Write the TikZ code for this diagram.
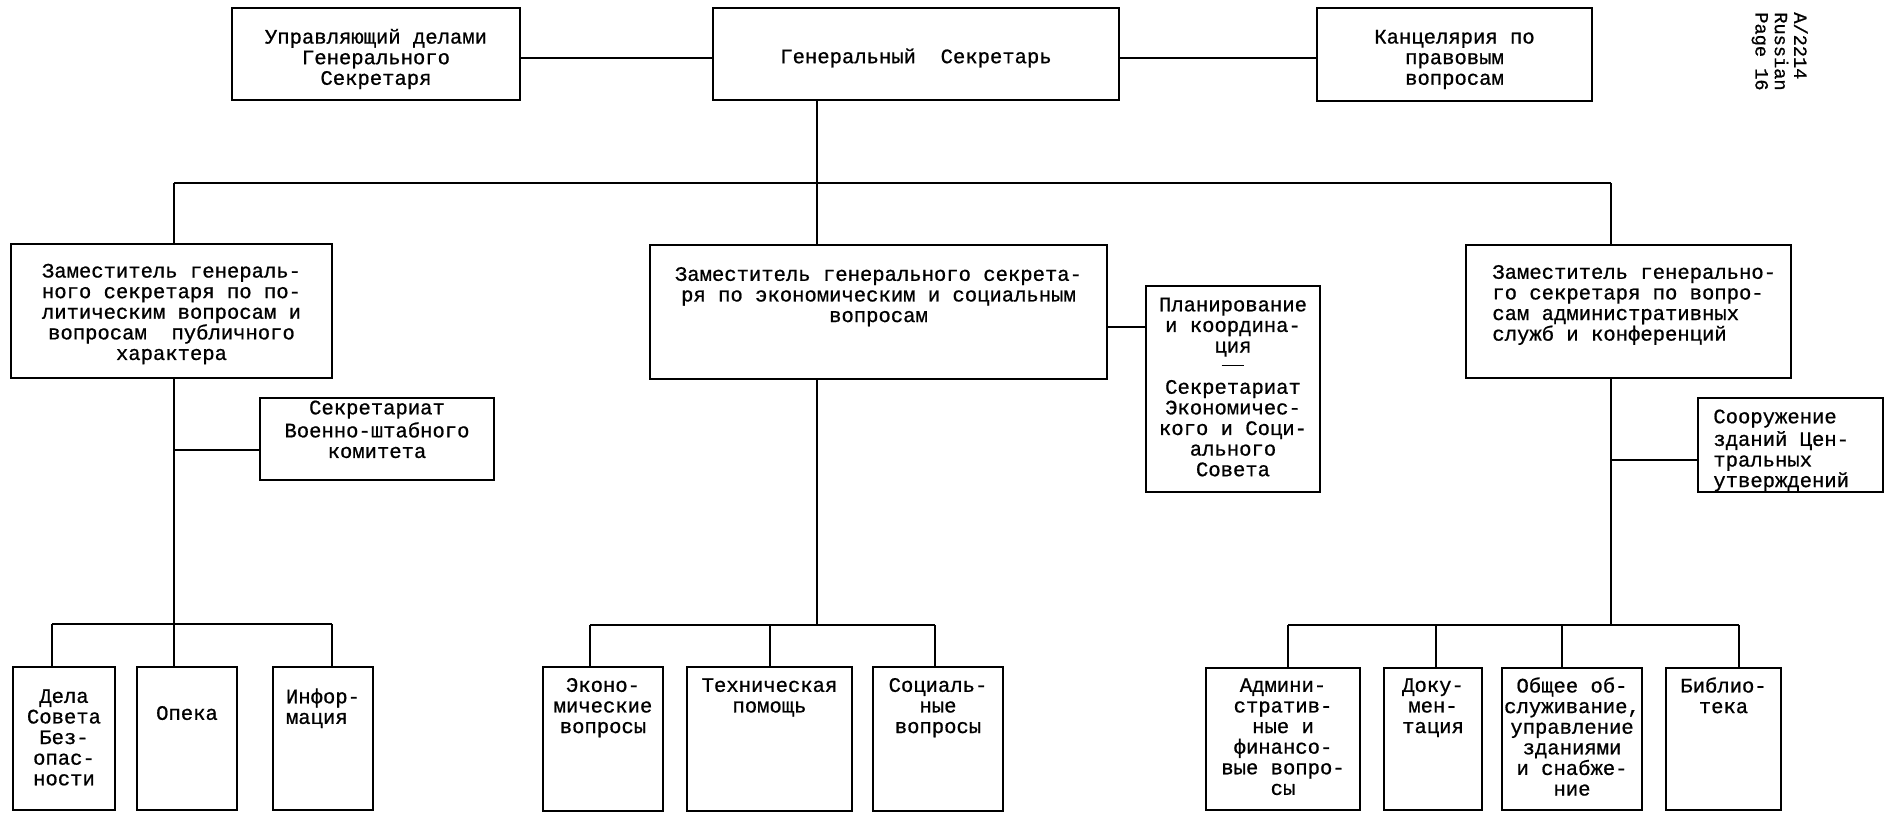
\documentclass[tikz,border=0pt]{standalone}
\usepackage{fontspec}
\newfontfamily\tw{Liberation Mono}[FakeBold=0.8]
\usetikzlibrary{fit,calc}
\begin{document}
\begin{tikzpicture}[x=0.02cm,y=-0.02cm,
  box/.style={draw, line width=1.1pt, inner sep=0pt},
  ln/.style={line width=1.1pt},
  txt/.style={inner sep=0pt, font=\tw\fontsize{11.7pt}{11.73pt}\selectfont, align=center},
  txtl/.style={txt, align=left},
  doclbl/.style={inner sep=0pt, font=\tw\fontsize{10.6pt}{11pt}\selectfont, align=left}]
\useasboundingbox (0,0) rectangle (1888,815);

% ---------- boxes ----------
\node[box, fit={(232,8) (520,100)}] (mgr) {};
\node[box, fit={(713,8) (1119,100)}] (gs) {};
\node[box, fit={(1317,8) (1592,101)}] (legal) {};

\node[box, fit={(11,244) (332,378)}] (depP) {};
\node[box, fit={(650,245) (1107,379)}] (depE) {};
\node[box, fit={(1466,245) (1791,378)}] (depA) {};

\node[box, fit={(1146,286) (1320,492)}] (plan) {};
\node[box, fit={(260,398) (494,480)}] (secmil) {};
\node[box, fit={(1698,398) (1883,492)}] (constr) {};

\node[box, fit={(13,667) (115,810)}] (dela) {};
\node[box, fit={(137,667) (237,810)}] (opeka) {};
\node[box, fit={(273,667) (373,810)}] (info) {};

\node[box, fit={(543,667) (663,811)}] (econ) {};
\node[box, fit={(687,667) (852,811)}] (tech) {};
\node[box, fit={(873,667) (1003,811)}] (soc) {};

\node[box, fit={(1206,668) (1360,810)}] (adm) {};
\node[box, fit={(1384,668) (1482,810)}] (doc) {};
\node[box, fit={(1502,668) (1642,810)}] (gen) {};
\node[box, fit={(1666,668) (1781,810)}] (lib) {};

% ---------- texts ----------
\node[txt] (t-mgr) at ($(mgr.center)+(0,5)$) {Управляющий делами\\Генерального\\Секретаря};
\node[txt] (t-gs) at ($(gs.center)+(0,4)$) {Генеральный~~Секретарь};
\node[txt] (t-legal) at ($(legal.center)+(0,5)$) {Канцелярия по\\правовым\\вопросам};
\node[txt] (t-depP) at ($(depP.center)+(0,3)$) {Заместитель генераль-\\ного секретаря по по-\\литическим вопросам и\\вопросам~~публичного\\характера};
\node[txt, anchor=north] (t-depE) at ($(depE.north)+(0,22)$) {\strut Заместитель генерального секрета-\\ря по экономическим и социальным\\вопросам};
\node[txtl, anchor=north west] (t-depA) at (1492,264) {\strut Заместитель генерально-\\го секретаря по вопро-\\сам административных\\служб и конференций};
\node[txt, anchor=north] (t-plan) at ($(plan.north)+(0,11.5)$) {\strut Планирование\\и координа-\\ция\\\rule[4pt]{13pt}{0.9pt}\\Секретариат\\Экономичес-\\кого и Соци-\\ального\\Совета};
\node[txt, anchor=north] (t-secmil) at ($(secmil.north)+(0,2.5)$) {\strut Секретариат\\Военно-штабного\\комитета};
\node[txtl, anchor=north west] (t-constr) at (1713,408.5) {\strut Сооружение\\зданий Цен-\\тральных\\утверждений};

\node[txt, anchor=north] (t-dela) at ($(dela.north)+(0,22)$) {\strut Дела\\Совета\\Без-\\опас-\\ности};
\node[txt, anchor=north] (t-opeka) at ($(opeka.north)+(0,39)$) {\strut Опека};
\node[txtl, anchor=north] (t-info) at ($(info.north)+(0,22)$) {\strut Инфор-\\мация};
\node[txt, anchor=north] (t-econ) at ($(econ.north)+(0,11)$) {\strut Эконо-\\мические\\вопросы};
\node[txt, anchor=north] (t-tech) at ($(tech.north)+(0,11)$) {\strut Техническая\\помощь};
\node[txt, anchor=north] (t-soc) at ($(soc.north)+(0,11)$) {\strut Социаль-\\ные\\вопросы};
\node[txt, anchor=north] (t-adm) at ($(adm.north)+(0,10)$) {\strut Админи-\\стратив-\\ные и\\финансо-\\вые вопро-\\сы};
\node[txt, anchor=north] (t-doc) at ($(doc.north)+(0,10)$) {\strut Доку-\\мен-\\тация};
\node[txt, anchor=north] (t-gen) at ($(gen.north)+(0,10)$) {\strut Общее об-\\служивание,\\управление\\зданиями\\и снабже-\\ние};
\node[txt, anchor=north] (t-lib) at ($(lib.north)+(0,10)$) {\strut Библио-\\тека};

\node[doclbl, rotate=-90, anchor=north west] (docref) at (1808,12) {A/2214\\Russian\\Page 16};

% ---------- connector coordinates ----------
\coordinate (xL) at (174,0);
\coordinate (xG) at (817,0);
\coordinate (xR) at (1611,0);
\coordinate (yM) at (0,58);
\coordinate (yT) at (0,183);
\coordinate (yE) at (0,327);
\coordinate (yS) at (0,450);
\coordinate (yC) at (0,460);
\coordinate (b1) at (52,624);
\coordinate (b3) at (332,624);
\coordinate (m1) at (590,625);
\coordinate (m2) at (770,625);
\coordinate (m3) at (935,625);
\coordinate (r1) at (1288,625);
\coordinate (r2) at (1436,625);
\coordinate (r3) at (1562,625);
\coordinate (r4) at (1739,625);

% ---------- connectors ----------
\draw[ln] (mgr.east |- yM) -- (gs.west |- yM);
\draw[ln] (gs.east |- yM) -- (legal.west |- yM);
\draw[ln] (xG |- gs.south) -- (xG |- depE.north);
\draw[ln] (xL |- yT) -- (xR |- yT);
\draw[ln] (xL |- yT) -- (xL |- depP.north);
\draw[ln] (xR |- yT) -- (xR |- depA.north);

\draw[ln] (xL |- depP.south) -- (xL |- opeka.north);
\draw[ln] (xL |- yS) -- (secmil.west |- yS);
\draw[ln] (depE.east |- yE) -- (plan.west |- yE);
\draw[ln] (xG |- depE.south) -- (xG |- m1);
\draw[ln] (xR |- depA.south) -- (xR |- r1);
\draw[ln] (xR |- yC) -- (constr.west |- yC);

\draw[ln] (b1) -- (b3);
\draw[ln] (b1) -- (b1 |- dela.north);
\draw[ln] (b3) -- (b3 |- info.north);

\draw[ln] (m1) -- (m3);
\draw[ln] (m1) -- (m1 |- econ.north);
\draw[ln] (m2) -- (m2 |- tech.north);
\draw[ln] (m3) -- (m3 |- soc.north);

\draw[ln] (r1) -- (r4);
\draw[ln] (r1) -- (r1 |- adm.north);
\draw[ln] (r2) -- (r2 |- doc.north);
\draw[ln] (r3) -- (r3 |- gen.north);
\draw[ln] (r4) -- (r4 |- lib.north);
\end{tikzpicture}
\end{document}
